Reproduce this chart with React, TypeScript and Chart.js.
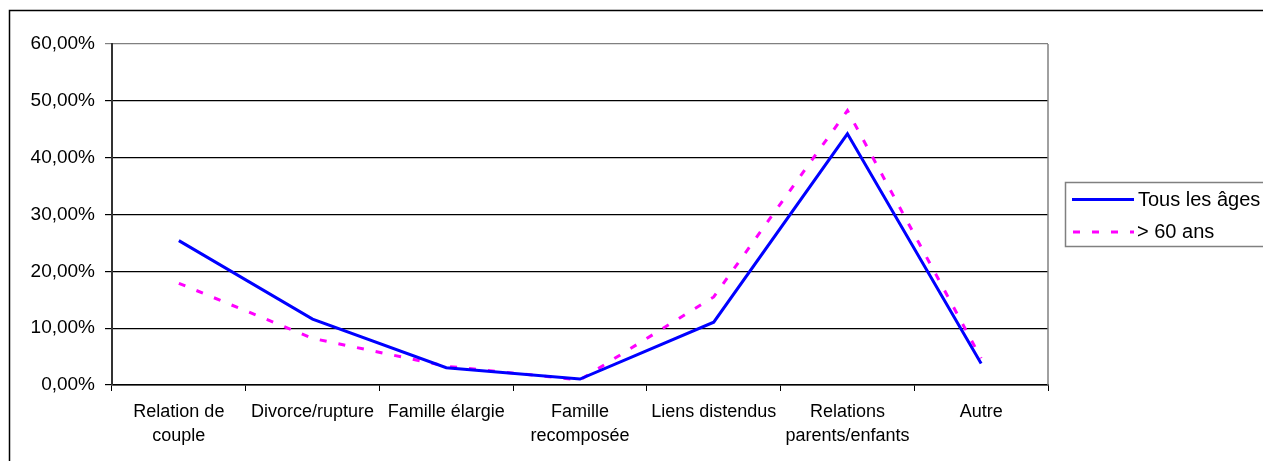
import React, { useEffect, useRef } from "react";
import { Chart, registerables } from "chart.js";

Chart.register(...registerables);

const categories: string[][] = [
  ["Relation de", "couple"],
  ["Divorce/rupture"],
  ["Famille élargie"],
  ["Famille", "recomposée"],
  ["Liens distendus"],
  ["Relations", "parents/enfants"],
  ["Autre"],
];
const tousLesAges: number[] = [25.4, 11.6, 3.05, 1.05, 11.05, 44.2, 3.8];
const plus60: number[] = [17.9, 8.2, 3.3, 0.9, 15.5, 48.3, 4.7];
const seriesNames: string[] = ["Tous les âges", "> 60 ans"];
const yMax = 60;
const yStep = 10;

const FONT = "'Liberation Sans', Arial, sans-serif";

const framePlugin = {
  id: "frame",
  afterDraw(chart: any) {
    const ctx = chart.ctx;
    const a = chart.chartArea;
    ctx.save();
    // plot right border (gray)
    ctx.strokeStyle = "#808080";
    ctx.lineWidth = 1.5;
    ctx.beginPath();
    ctx.moveTo(a.right, a.top);
    ctx.lineTo(a.right, a.bottom);
    ctx.stroke();
    // outer border
    ctx.strokeStyle = "#000";
    ctx.lineWidth = 1.5;
    ctx.beginPath();
    ctx.moveTo(9.5, 470);
    ctx.lineTo(9.5, 10.5);
    ctx.lineTo(1270, 10.5);
    ctx.stroke();
    // legend
    ctx.strokeStyle = "#808080";
    ctx.lineWidth = 1.5;
    ctx.strokeRect(1065.5, 182.5, 260, 64);
    ctx.setLineDash([]);
    ctx.strokeStyle = "#0000FF";
    ctx.lineWidth = 3;
    ctx.beginPath();
    ctx.moveTo(1072, 199.5);
    ctx.lineTo(1134, 199.5);
    ctx.stroke();
    ctx.strokeStyle = "#FF00FF";
    ctx.setLineDash([7, 12]);
    ctx.beginPath();
    ctx.moveTo(1073, 232);
    ctx.lineTo(1134, 232);
    ctx.stroke();
    ctx.setLineDash([]);
    ctx.fillStyle = "#000";
    ctx.font = `20px ${FONT}`;
    ctx.textBaseline = "middle";
    ctx.textAlign = "left";
    ctx.fillText(seriesNames[0], 1138, 200);
    ctx.fillText(seriesNames[1], 1137, 232);
    ctx.restore();
  },
};

export default function App() {
  const ref = useRef<HTMLCanvasElement>(null);
  useEffect(() => {
    if (!ref.current) return;
    const chart = new Chart(ref.current, {
      type: "line",
      data: {
        labels: categories,
        datasets: [
          {
            label: seriesNames[0],
            data: tousLesAges,
            borderColor: "#0000FF",
            borderWidth: 3,
            pointRadius: 0,
            tension: 0,
            fill: false,
          },
          {
            label: seriesNames[1],
            data: plus60,
            borderColor: "#FF00FF",
            borderWidth: 3,
            borderDash: [7, 12],
            pointRadius: 0,
            tension: 0,
            fill: false,
          },
        ],
      },
      options: {
        responsive: false,
        animation: false,
        layout: { padding: { left: 0, top: 44, right: 215, bottom: 0 } },
        plugins: { legend: { display: false }, tooltip: { enabled: false } },
        scales: {
          x: {
            offset: true,
            grid: {
              offset: true,
              drawOnChartArea: false,
              color: "#000",
              tickLength: 6,
            },
            border: { color: "#000", width: 1.5 },
            ticks: {
              color: "#000",
              autoSkip: false,
              maxRotation: 0,
              padding: 9,
              font: { family: FONT, size: 18, lineHeight: 1.33 },
            },
            afterFit(scale: any) {
              scale.height = 76;
            },
          },
          y: {
            min: 0,
            max: yMax,
            grid: {
              color: (c: any) => (c.tick && c.tick.value === yMax ? "#808080" : "#000"),
              lineWidth: 1.2,
              tickLength: 7,
            },
            border: { color: "#333", width: 2 },
            ticks: {
              stepSize: yStep,
              color: "#000",
              padding: 10,
              font: { family: FONT, size: 19 },
              callback: (v: any) => Number(v).toFixed(2).replace(".", ",") + "%",
            },
            afterFit(scale: any) {
              scale.width = 112;
            },
          },
        },
      },
      plugins: [framePlugin],
    });
    return () => chart.destroy();
  }, []);
  return (
    <div style={{ position: "fixed", left: 0, top: 0, width: 1263, height: 461, background: "#fff" }}>
      <canvas ref={ref} width={1263} height={461} style={{ width: 1263, height: 461 }} />
    </div>
  );
}
